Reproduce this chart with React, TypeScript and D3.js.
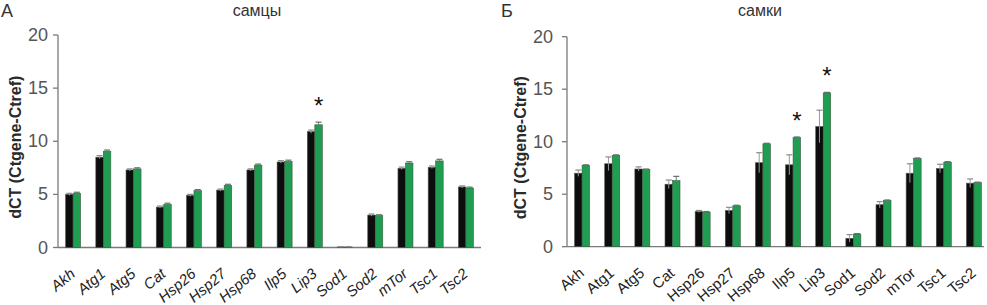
import React from "react";
import * as d3 from "d3";

const genes = ["Akh","Atg1","Atg5","Cat","Hsp26","Hsp27","Hsp68","Ilp5","Lip3","Sod1","Sod2","mTor","Tsc1","Tsc2"];
const yTicks = [0, 5, 10, 15, 20];

const maleCtrl = [5.0, 8.5, 7.3, 3.8, 4.9, 5.4, 7.3, 8.05, 10.9, 0.05, 3.05, 7.45, 7.55, 5.7];
const maleCtrlErr = [0.1, 0.15, 0.1, 0.1, 0.1, 0.1, 0.1, 0.12, 0.15, 0.02, 0.1, 0.12, 0.12, 0.1];
const maleExp = [5.1, 9.05, 7.4, 4.05, 5.35, 5.85, 7.75, 8.1, 11.55, 0.03, 3.0, 7.95, 8.15, 5.6];
const maleExpErr = [0.1, 0.12, 0.1, 0.12, 0.1, 0.1, 0.1, 0.12, 0.25, 0.02, 0.08, 0.12, 0.15, 0.08];
const maleStars = ["Lip3"];

const femaleCtrl = [7.0, 7.9, 7.4, 5.95, 3.35, 3.45, 8.0, 7.8, 11.45, 0.8, 4.0, 7.0, 7.45, 6.05];
const femaleCtrlErr = [0.3, 0.65, 0.2, 0.4, 0.1, 0.3, 0.95, 0.95, 1.55, 0.35, 0.3, 0.9, 0.4, 0.4];
const femaleExp = [7.75, 8.7, 7.35, 6.3, 3.3, 3.9, 9.8, 10.4, 14.65, 1.2, 4.4, 8.4, 8.05, 6.1];
const femaleExpErr = [0.05, 0.05, 0.05, 0.4, 0.05, 0.05, 0.05, 0.05, 0.05, 0.05, 0.05, 0.05, 0.05, 0.05];
const femaleStars = ["Ilp5", "Lip3"];

const GREEN = "#1f9d50";
const FONT = "Liberation Sans, Arial, sans-serif";

type PanelProps = {
  letter: string; title: string; titleX: number; letterX: number;
  x0: number; x1: number; y0: number; y20: number; labelX: number; tickGap: number;
  ctrl: number[]; ctrlErr: number[]; exp: number[]; expErr: number[];
  stars: string[]; italic: boolean; axisEnd: number;
};

function Panel(p: PanelProps) {
  const x = d3.scaleBand<string>().domain(genes).range([p.x0, p.x1]).padding(0);
  const y = d3.scaleLinear().domain([0, 20]).range([p.y0, p.y20]);
  const bw = 7.5;
  const axisCol = "#7a7a7a";
  return (
    <g>
      <text x={p.letterX} y={17} fontSize={18} fontFamily={FONT} fill="#333">{p.letter}</text>
      <text x={p.titleX} y={16} fontSize={16} fontFamily={FONT} fill="#333" textAnchor="middle">{p.title}</text>
      <text transform={`translate(${p.labelX},${(p.y0 + p.y20) / 2 + 6}) rotate(-90)`} textAnchor="middle"
        fontSize={16} fontWeight="bold" fontFamily={FONT} fill="#2a2a2a">dCT (Ctgene-Ctref)</text>
      <line x1={p.x0} x2={p.x0} y1={y(0)} y2={y(20)} stroke={axisCol} strokeWidth={1.3} />
      <line x1={p.x0} x2={p.axisEnd} y1={y(0)} y2={y(0)} stroke={axisCol} strokeWidth={1.3} />
      {yTicks.map(t => (
        <g key={t}>
          <line x1={p.x0 - 5} x2={p.x0} y1={y(t)} y2={y(t)} stroke={axisCol} strokeWidth={1.3} />
          <text x={p.x0 - p.tickGap} y={y(t) + 6} textAnchor="end" fontSize={18} fontFamily={FONT} fill="#555">{t}</text>
        </g>
      ))}
      {genes.map((g, i) => {
        const c = (x(g) as number) + x.bandwidth() / 2;
        const bx = c - bw;
        const gx = c;
        const ce = p.ctrl[i] + p.ctrlErr[i];
        const ee = p.exp[i] + p.expErr[i];
        return (
          <g key={g}>
            <rect x={bx} y={y(p.ctrl[i])} width={bw} height={y(0) - y(p.ctrl[i])} fill="#0d0d0d" stroke="#555" strokeWidth={0.6} />
            <rect x={gx} y={y(p.exp[i])} width={bw} height={y(0) - y(p.exp[i])} fill={GREEN} stroke="#3a5a44" strokeWidth={0.6} />
            <line x1={bx + bw / 2} x2={bx + bw / 2} y1={y(Math.max(0, p.ctrl[i] - p.ctrlErr[i]))} y2={y(ce)} stroke="#9a9a9a" strokeWidth={1} />
            <line x1={bx + bw / 2 - 3} x2={bx + bw / 2 + 3} y1={y(ce)} y2={y(ce)} stroke="#8a8a8a" strokeWidth={1.2} />
            <line x1={gx + bw / 2} x2={gx + bw / 2} y1={y(p.exp[i])} y2={y(ee)} stroke="#777" strokeWidth={1} />
            <line x1={gx + bw / 2 - 3} x2={gx + bw / 2 + 3} y1={y(ee)} y2={y(ee)} stroke="#6a6a6a" strokeWidth={1.2} />
            {p.stars.includes(g) && (
              <text x={gx + bw / 2} y={y(ee) - 8} textAnchor="middle" fontSize={24} fontFamily={FONT} fill="#111">*</text>
            )}
            <text transform={`translate(${c + 3},${y(0) + 28}) rotate(-40)`} textAnchor="end"
              fontSize={15} fontStyle={p.italic ? "italic" : "normal"} fontFamily={FONT} fill="#222">{g}</text>
          </g>
        );
      })}
    </g>
  );
}

export default function App() {
  return (
    <svg width={987} height={305} style={{ position: "absolute", left: 0, top: 0, background: "#fff" }}>
      <rect width={987} height={305} fill="#fff" />
      <Panel letter="А" title="самцы" titleX={257} letterX={1} x0={58} x1={481} y0={247.5} y20={35}
        labelX={21} tickGap={10} ctrl={maleCtrl} ctrlErr={maleCtrlErr} exp={maleExp} expErr={maleExpErr}
        stars={maleStars} italic={true} axisEnd={481} />
      <Panel letter="Б" title="самки" titleX={760} letterX={501} x0={567} x1={989} y0={246.7} y20={36.7}
        labelX={526} tickGap={14} ctrl={femaleCtrl} ctrlErr={femaleCtrlErr} exp={femaleExp} expErr={femaleExpErr}
        stars={femaleStars} italic={false} axisEnd={984} />
    </svg>
  );
}
